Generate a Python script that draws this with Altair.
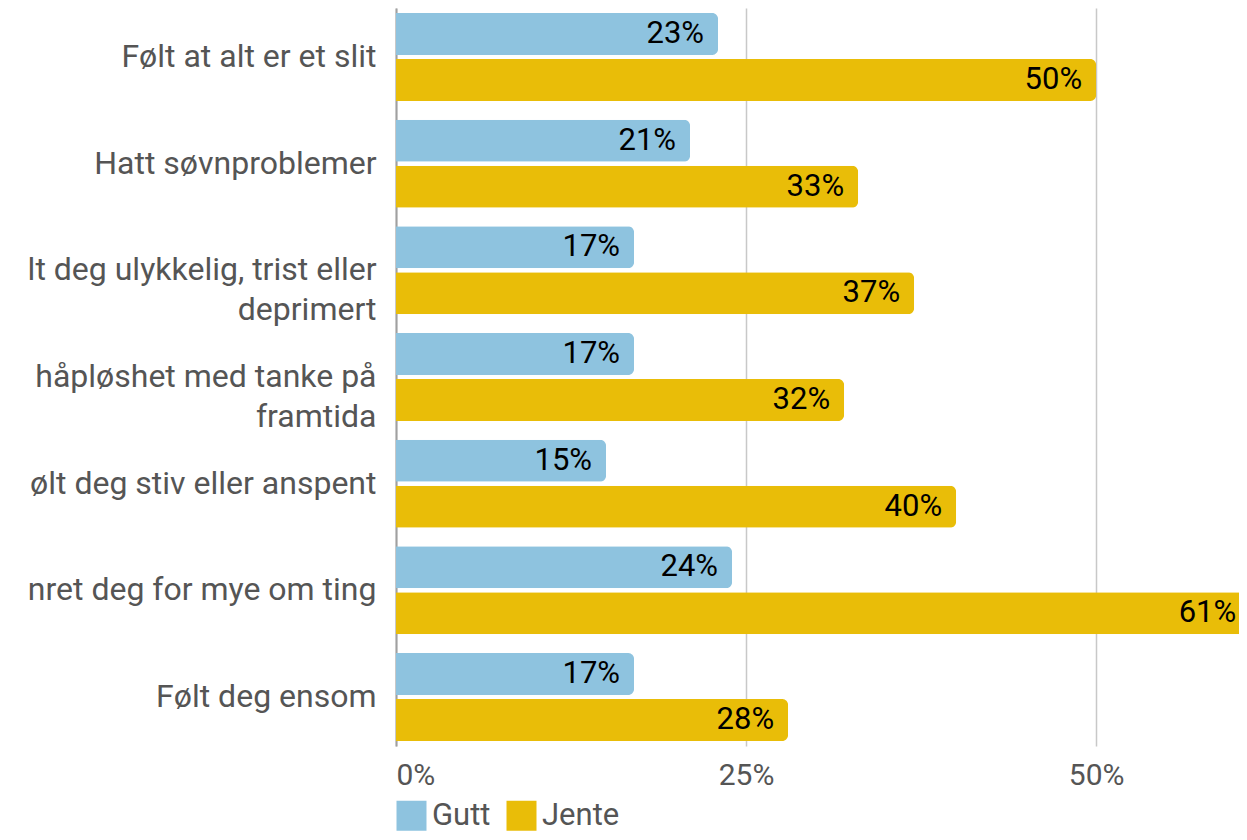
import altair as alt
import pandas as pd

categories = [
    "Følt at alt er et slit",
    "Hatt søvnproblemer",
    "lt deg ulykkelig, trist eller|deprimert",
    "håpløshet med tanke på|framtida",
    "ølt deg stiv eller anspent",
    "nret deg for mye om ting",
    "Følt deg ensom",
]
groups = ["Gutt", "Jente"]
gutt = [23, 21, 17, 17, 15, 24, 17]
jente = [50, 33, 37, 32, 40, 61, 28]
x_ticks = [0, 25, 50]
colors = ["#8EC3DF", "#E9BD08"]

rows = []
for c, g, j in zip(categories, gutt, jente):
    rows.append({"kategori": c, "kjonn": "Gutt", "verdi": g})
    rows.append({"kategori": c, "kjonn": "Jente", "verdi": j})
df = pd.DataFrame(rows)

FONT = "Roboto"

base = alt.Chart(df).encode(
    y=alt.Y(
        "kategori:N",
        sort=categories,
        scale=alt.Scale(paddingInner=0.175, paddingOuter=0.047),
        axis=alt.Axis(
            title=None,
            labelExpr="split(datum.label, '|')",
            labelFontSize=32,
            labelFont=FONT,
            labelColor="#555555",
            labelPadding=20,
            labelLimit=600,
            labelLineHeight=40,
            ticks=False,
            grid=False,
            domainColor="#A0A0A0",
            domainWidth=2,
        ),
    ),
    yOffset=alt.YOffset(
        "kjonn:N",
        sort=groups,
        scale=alt.Scale(paddingInner=0.087, paddingOuter=0),
    ),
    x=alt.X(
        "verdi:Q",
        scale=alt.Scale(domain=[0, 60.2], nice=False),
        axis=alt.Axis(
            title=None,
            values=x_ticks,
            labelExpr="datum.value + '%'",
            labelFontSize=30,
            labelFont=FONT,
            labelColor="#555555",
            labelPadding=14,
            labelFlush=True,
            ticks=False,
            domain=False,
            grid=True,
            gridColor="#C8C8C8",
            gridWidth=1.5,
        ),
    ),
)

bars = base.mark_bar(cornerRadiusEnd=6).encode(
    color=alt.Color(
        "kjonn:N",
        scale=alt.Scale(domain=groups, range=colors),
        legend=alt.Legend(
            title=None,
            orient="none",
            legendX=0,
            legendY=792,
            direction="horizontal",
            symbolType="square",
            symbolSize=900,
            symbolStrokeWidth=0,
            symbolOpacity=1,
            labelFontSize=31,
            labelFont=FONT,
            labelColor="#555555",
            labelOffset=5,
            columnPadding=15,
        ),
    )
)

labels = base.mark_text(
    align="right", baseline="middle", dx=-14, fontSize=31, font=FONT, color="black"
).transform_calculate(lab="datum.verdi + '%'").encode(text="lab:N")

chart = (
    (bars + labels)
    .properties(
        width=843,
        height=738,
        autosize=alt.AutoSizeParams(type="none"),
        padding={"left": 388, "top": 0, "right": 0, "bottom": 86},
    )
    .configure_view(stroke=None)
)

chart.save("out.html", embed_options={"renderer": "svg", "actions": False})
